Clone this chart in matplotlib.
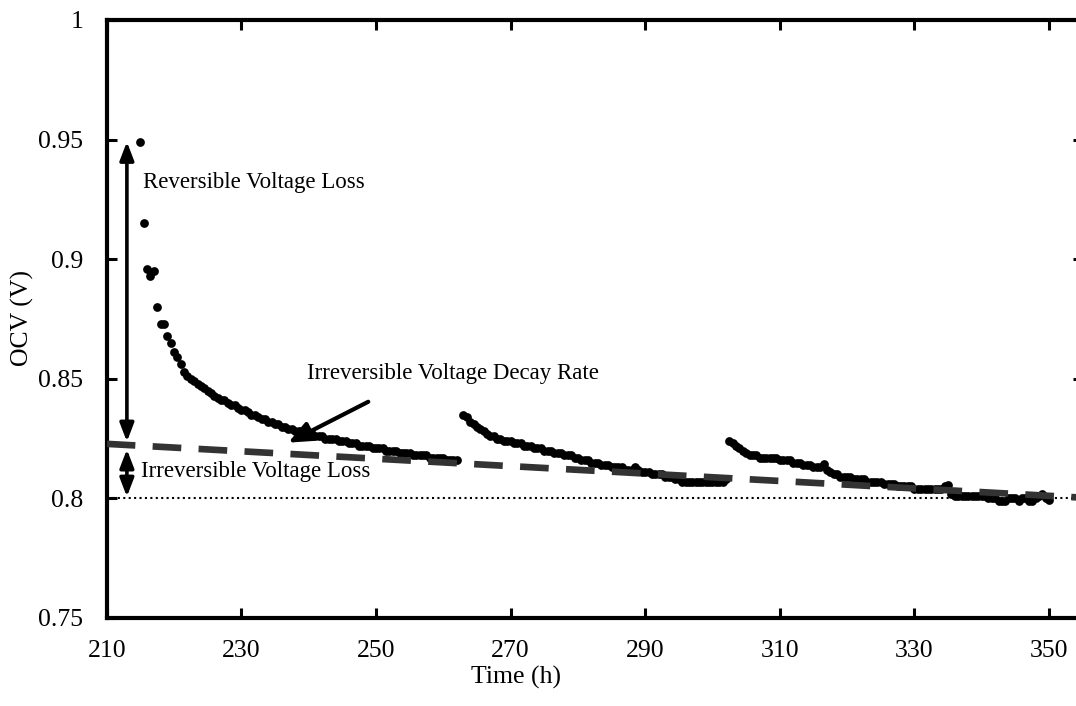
import numpy as np
import matplotlib.pyplot as plt

plt.rcParams['font.family'] = ['Liberation Serif', 'DejaVu Serif']

# OCV readings (V), one every half hour, three recovery runs
step = 0.5
start1 = 215.0
ocv1 = [0.949, 0.915, 0.896, 0.893, 0.895, 0.880, 0.873, 0.873, 0.868, 0.865,
        0.861, 0.859, 0.856, 0.853, 0.851, 0.850, 0.849, 0.848, 0.847, 0.846,
        0.845, 0.844, 0.843, 0.842, 0.841, 0.841, 0.840, 0.839, 0.839, 0.838,
        0.837, 0.837, 0.836, 0.835, 0.835, 0.834, 0.833, 0.833, 0.832, 0.832,
        0.831, 0.831, 0.830, 0.830, 0.829, 0.829, 0.828, 0.828, 0.828, 0.827,
        0.827, 0.827, 0.826, 0.826, 0.826, 0.825, 0.825, 0.825, 0.825, 0.824,
        0.824, 0.824, 0.823, 0.823, 0.823, 0.822, 0.822, 0.822, 0.822, 0.821,
        0.821, 0.821, 0.821, 0.820, 0.820, 0.820, 0.820, 0.819, 0.819, 0.819,
        0.819, 0.818, 0.818, 0.818, 0.818, 0.818, 0.817, 0.817, 0.817, 0.817,
        0.817, 0.816, 0.816, 0.816, 0.816]
start2 = 263.0
ocv2 = [0.835, 0.834, 0.832, 0.831, 0.830, 0.829, 0.828, 0.827, 0.826, 0.826,
        0.825, 0.825, 0.824, 0.824, 0.824, 0.823, 0.823, 0.823, 0.822, 0.822,
        0.822, 0.821, 0.821, 0.821, 0.820, 0.820, 0.820, 0.819, 0.819, 0.819,
        0.818, 0.818, 0.818, 0.817, 0.817, 0.816, 0.816, 0.816, 0.815, 0.815,
        0.815, 0.814, 0.814, 0.814, 0.813, 0.813, 0.813, 0.813, 0.812, 0.812,
        0.812, 0.813, 0.812, 0.811, 0.811, 0.811, 0.810, 0.810, 0.810, 0.810,
        0.809, 0.809, 0.809, 0.808, 0.808, 0.807, 0.807, 0.807, 0.807, 0.807,
        0.807, 0.807, 0.807, 0.807, 0.807, 0.807, 0.807, 0.807, 0.808]
start3 = 302.5
ocv3 = [0.824, 0.823, 0.822, 0.821, 0.820, 0.819, 0.818, 0.818, 0.818, 0.817,
        0.817, 0.817, 0.817, 0.817, 0.817, 0.816, 0.816, 0.816, 0.816, 0.815,
        0.815, 0.815, 0.814, 0.814, 0.814, 0.813, 0.813, 0.813, 0.8145, 0.812,
        0.811, 0.810, 0.810, 0.809, 0.809, 0.809, 0.809, 0.808, 0.808, 0.808,
        0.808, 0.807, 0.807, 0.807, 0.807, 0.807, 0.806, 0.806, 0.806, 0.806,
        0.805, 0.805, 0.805, 0.805, 0.805, 0.804, 0.804, 0.804, 0.804, 0.804,
        0.804, 0.804, 0.804, 0.804, 0.805, 0.8055, 0.802, 0.801, 0.801, 0.801,
        0.801, 0.801, 0.801, 0.801, 0.801, 0.801, 0.801, 0.800, 0.800, 0.800,
        0.799, 0.799, 0.799, 0.800, 0.800, 0.800, 0.799, 0.800, 0.800, 0.799,
        0.799, 0.800, 0.801, 0.802, 0.800, 0.7995]

# linear fit of the irreversible part, and the reference level
trend_t = [210, 355]
trend_v = [0.8228, 0.8003]
base_v = 0.80

xticks = [210, 230, 250, 270, 290, 310, 330, 350]
yticks = [0.75, 0.8, 0.85, 0.9, 0.95, 1.0]
ylabels = ['0.75', '0.8', '0.85', '0.9', '0.95', '1']

fig = plt.figure(figsize=(10.76, 7.06), dpi=100)
ax = fig.add_axes([106.7 / 1076, 1 - 618 / 706, 976 / 1076, 598 / 706])

# data points
for start, ocv in [(start1, ocv1), (start2, ocv2), (start3, ocv3)]:
    t = start + step * np.arange(len(ocv))
    ax.plot(t, ocv, 'o', color='black', markersize=6.3, markeredgewidth=0, zorder=3)

ax.plot(trend_t, [base_v, base_v], color='black', lw=1.5, linestyle=(0, (1, 1.6)), zorder=2)
ax.plot(trend_t, trend_v, color='#333333', lw=4.8, linestyle=(0, (4.3, 2.6)), zorder=4)

# arrows + notes
arr = dict(arrowstyle='<|-|>,head_length=1.1,head_width=0.42', color='black', lw=2.6,
           shrinkA=0, shrinkB=0)
ax.annotate('', xy=(213.0, 0.9491), xytext=(213.0, 0.8237), arrowprops=arr, zorder=5)
ax.annotate('', xy=(213.0, 0.8205), xytext=(213.0, 0.8007), arrowprops=arr, zorder=5)
ax.annotate('', xy=(236.97, 0.8233), xytext=(248.86, 0.8404),
            arrowprops=dict(arrowstyle='-|>,head_length=1.4,head_width=0.6', color='black',
                            lw=3, shrinkA=0, shrinkB=0), zorder=5)
ax.text(215.4, 0.9319, 'Reversible Voltage Loss', fontsize=16.5, va='center', ha='left')
ax.text(239.7, 0.8523, 'Irreversible Voltage Decay Rate', fontsize=16.5, va='center', ha='left')
ax.text(215.05, 0.8112, 'Irreversible Voltage Loss', fontsize=16.5, va='center', ha='left')

ax.set_xlim(210, 355)
ax.set_ylim(0.75, 1.0)
ax.set_xticks(xticks)
ax.set_yticks(yticks)
ax.set_yticklabels(ylabels)
ax.tick_params(direction='in', length=7, width=2.2, labelsize=18.5, top=True, right=True)
ax.tick_params(axis='y', pad=17)
ax.tick_params(axis='x', pad=16)
for s in ax.spines.values():
    s.set_linewidth(3)

fig.text(22 / 1076, 1 - 318 / 706, 'OCV (V)', rotation=90, ha='center', va='center', fontsize=18.5)
fig.text(516 / 1076, 1 - 677 / 706, 'Time (h)', ha='center', va='center', fontsize=18.5)

fig.savefig('out.png', dpi=100)
